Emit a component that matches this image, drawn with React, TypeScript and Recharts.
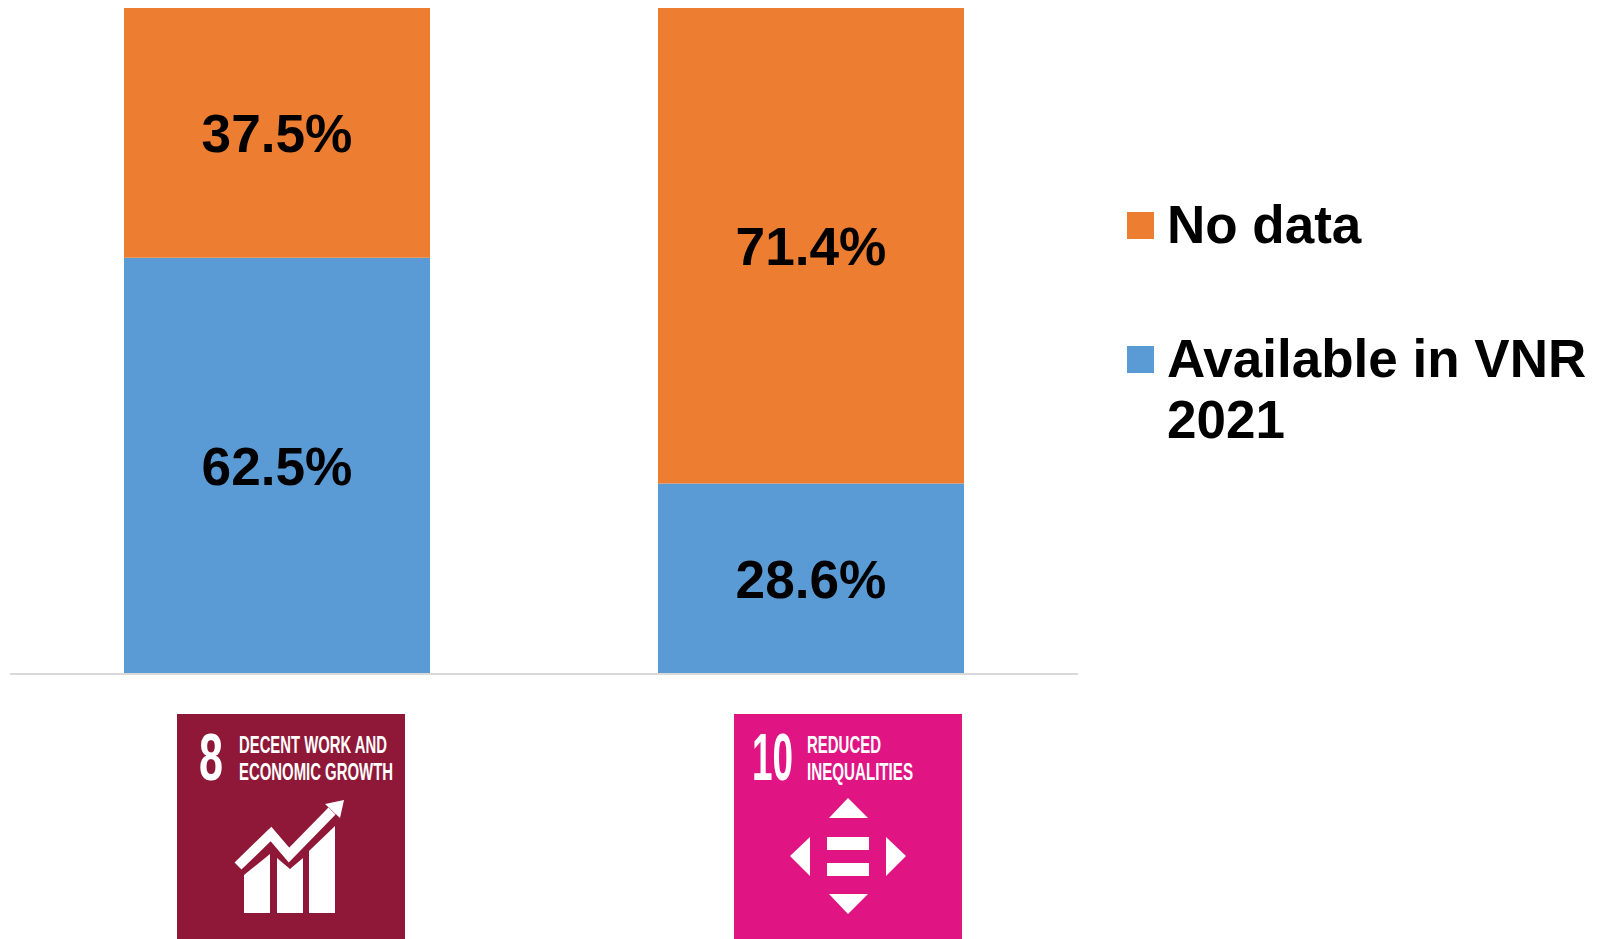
import React from 'react';
import { BarChart, Bar, XAxis, YAxis, Legend, LabelList } from 'recharts';

const goals = ['8', '10'];
const availableValues = [62.5, 28.6];
const noDataValues = [37.5, 71.4];

const chartData = goals.map((goal, i) => ({
  goal,
  available: availableValues[i],
  noData: noDataValues[i],
}));

const FONT = '"Liberation Sans", Arial, sans-serif';
const NARROW = '"Liberation Sans Narrow", "Liberation Sans", sans-serif';

function IconText({ x, y, w, size, stretch = 1, children }: any) {
  return (
    <text
      transform={`translate(${x},${y}) scale(1,${stretch})`}
      fill="#fff"
      fontFamily={NARROW}
      fontWeight="bold"
      fontSize={size}
      textLength={w}
      lengthAdjust="spacingAndGlyphs"
    >
      {children}
    </text>
  );
}

// SDG 8 tile
function GoalEight() {
  return (
    <g>
      <rect width={228} height={228} fill="#8F1838" />
      <IconText x={22} y={66} w={24} size={66}>8</IconText>
      <IconText x={62} y={39} w={148} size={23}>DECENT WORK AND</IconText>
      <IconText x={62} y={66} w={154} size={23}>ECONOMIC GROWTH</IconText>
      <polyline points="61,152 94,120 112,141 155,97" fill="none" stroke="#fff" strokeWidth={10} />
      <polygon points="167,86 148,90 163,104" fill="#fff" />
      <polygon points="67,161 93,140 93,199 67,199" fill="#fff" />
      <polygon points="100,144 113,155 126,144 126,199 100,199" fill="#fff" />
      <polygon points="132,137 158,112 158,199 132,199" fill="#fff" />
    </g>
  );
}

// SDG 10 tile
function GoalTen() {
  return (
    <g>
      <rect width={228} height={228} fill="#E01483" />
      <IconText x={18} y={66} w={41} size={50} stretch={1.32}>10</IconText>
      <IconText x={73} y={39} w={74} size={23}>REDUCED</IconText>
      <IconText x={73} y={66} w={106} size={23}>INEQUALITIES</IconText>
      <polygon points="114,84 95,104 134,104" fill="#fff" />
      <polygon points="76,123 56,142 76,162" fill="#fff" />
      <polygon points="152,123 172,142 152,162" fill="#fff" />
      <polygon points="95,180 134,180 114,200" fill="#fff" />
      <rect x={93} y={123} width={42} height={13} fill="#fff" />
      <rect x={93} y={149} width={42} height={13} fill="#fff" />
    </g>
  );
}

function GoalTick({ x, y, payload }: any) {
  const isEight = payload.value === '8';
  const left = x + (isEight ? -100 : -77);
  return (
    <g transform={`translate(${left},${y + 32})`}>
      {isEight ? <GoalEight /> : <GoalTen />}
    </g>
  );
}

function SideLegend({ payload }: any) {
  const items = [...(payload || [])].reverse();
  return (
    <div style={{ fontFamily: FONT, fontWeight: 'bold', fontSize: 53, lineHeight: '61px', color: '#000' }}>
      {items.map((item: any, i: number) => (
        <div key={item.value} style={{ display: 'flex', marginBottom: i === 0 ? 73 : 0 }}>
          <div style={{ width: 27, height: 27, marginTop: 18, marginRight: 13, flexShrink: 0, backgroundColor: item.color }} />
          <div style={{ width: 433 }}>{item.value}</div>
        </div>
      ))}
    </div>
  );
}

export default function App() {
  return (
    <div style={{ position: 'absolute', left: 0, top: 0, width: 1601, height: 939, overflow: 'hidden', background: '#fff' }}>
      <BarChart
        width={1601}
        height={939}
        data={chartData}
        margin={{ top: 8, right: 523, bottom: 0, left: 10 }}
        barCategoryGap={114}
      >
        <XAxis
          dataKey="goal"
          height={265}
          tickLine={false}
          axisLine={{ stroke: '#D9D9D9', strokeWidth: 2 }}
          tick={<GoalTick />}
          interval={0}
        />
        <YAxis hide domain={[0, 100]} />
        <Legend
          layout="horizontal"
          verticalAlign="middle"
          align="center"
          content={<SideLegend />}
          wrapperStyle={{ left: 1127, top: 194, width: 474 }}
        />
        <Bar dataKey="available" name="Available in VNR 2021" stackId="a" fill="#5B9BD5" isAnimationActive={false}>
          <LabelList
            dataKey="available"
            position="center"
            formatter={(v: number) => `${v}%`}
            fill="#000"
            fontFamily={FONT}
            fontWeight="bold"
            fontSize={53.2}
          />
        </Bar>
        <Bar dataKey="noData" name="No data" stackId="a" fill="#ED7D31" isAnimationActive={false}>
          <LabelList
            dataKey="noData"
            position="center"
            formatter={(v: number) => `${v}%`}
            fill="#000"
            fontFamily={FONT}
            fontWeight="bold"
            fontSize={53.2}
          />
        </Bar>
      </BarChart>
    </div>
  );
}
